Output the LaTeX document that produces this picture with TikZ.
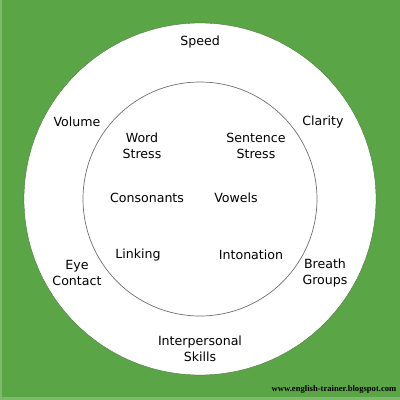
\documentclass[tikz,border=0pt]{standalone}
\usepackage{fontspec}
\setmainfont{DejaVu Sans}
\newfontfamily\wmfont{Liberation Serif}
\definecolor{bggreen}{HTML}{5AA545}
\definecolor{edgegreen}{HTML}{7DBA6C}
\definecolor{ringgray}{HTML}{707070}
\begin{document}
\begin{tikzpicture}[x=1pt,y=1pt,
  lbl/.style={font=\fontsize{12.6}{16}\selectfont, align=center, text=black, inner sep=0pt},
  wm/.style={font=\wmfont\bfseries\fontsize{8.6}{9}\selectfont, inner sep=0pt}]
\useasboundingbox (0,0) rectangle (400,400);
\fill[bggreen] (0,0) rectangle (400,400);
\fill[edgegreen] (0,0) rectangle (2,400);
\fill[edgegreen] (0,0) rectangle (400,3);
\node[circle, fill=white, draw=bggreen!60!black, line width=0.3pt, minimum size=352pt, inner sep=0pt] (outer) at (200,201) {};
\node[circle, draw=ringgray, line width=0.7pt, minimum size=234pt, inner sep=0pt] (inner) at (200,201) {};
\node[lbl] (speed) at (200,358) {Speed};
\node[lbl] (volume) at (77,278) {Volume};
\node[lbl] (clarity) at (323,278) {Clarity};
\node[lbl] (word) at (142,254) {Word\\Stress};
\node[lbl] (sentence) at (256,254) {Sentence\\Stress};
\node[lbl] (cons) at (147,202) {Consonants};
\node[lbl] (vowels) at (236,202) {Vowels};
\node[lbl] (linking) at (138,145) {Linking};
\node[lbl] (inton) at (251,145) {Intonation};
\node[lbl] (eye) at (77,127) {Eye\\Contact};
\node[lbl] (breath) at (325,127) {Breath\\Groups};
\node[lbl] (inter) at (200,51) {Interpersonal\\Skills};
\node[wm] (url) at (334,11) {www.english-trainer.blogspot.com};
\end{tikzpicture}
\end{document}
